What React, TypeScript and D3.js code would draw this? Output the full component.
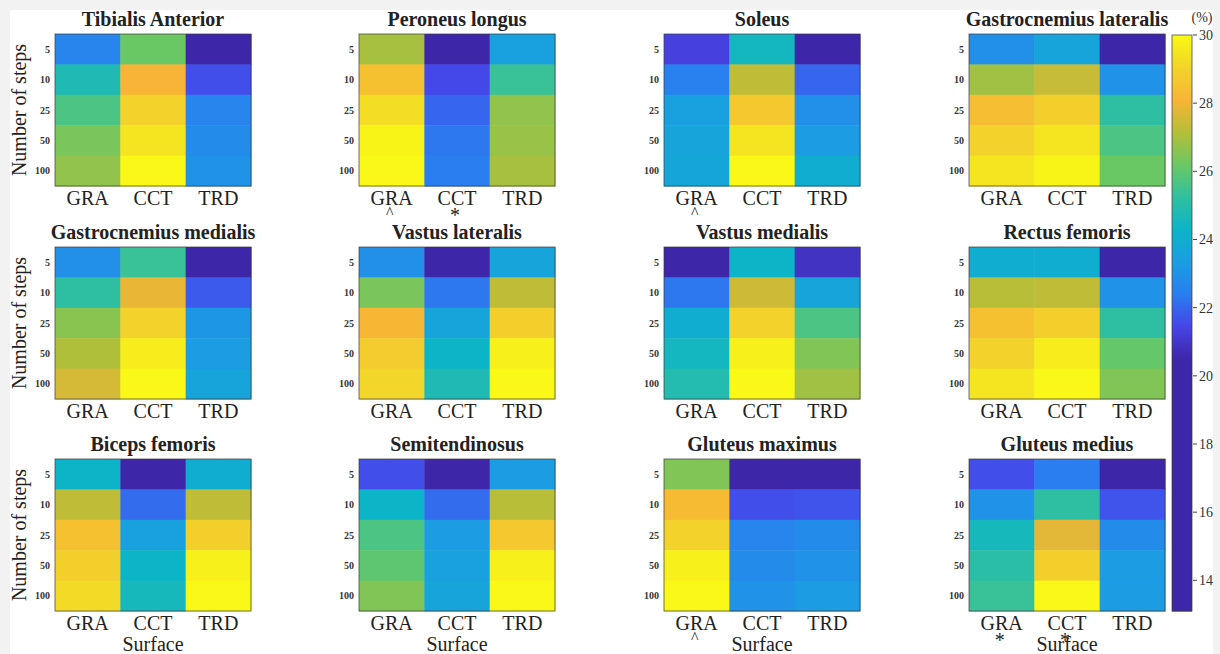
import React from 'react';
import * as d3 from 'd3';

// categories
const surfaces = ['GRA', 'CCT', 'TRD'];
const steps = ['5', '10', '25', '50', '100'];
const muscles = [
  'Tibialis Anterior', 'Peroneus longus', 'Soleus', 'Gastrocnemius lateralis',
  'Gastrocnemius medialis', 'Vastus lateralis', 'Vastus medialis', 'Rectus femoris',
  'Biceps femoris', 'Semitendinosus', 'Gluteus maximus', 'Gluteus medius',
];

// values (%) : one row per number of steps, columns GRA / CCT / TRD
const tibialisAnterior = [[22.6, 26.2, 19.0], [24.8, 28.1, 21.6], [25.7, 29.0, 22.6], [26.4, 29.5, 22.8], [26.7, 30.0, 23.0]];
const peroneusLongus = [[27.0, 19.0, 23.5], [28.5, 21.5, 25.4], [29.3, 22.0, 26.7], [29.9, 22.3, 26.8], [30.0, 22.4, 27.0]];
const soleus = [[21.3, 24.5, 19.0], [22.5, 27.3, 22.0], [23.5, 28.7, 22.9], [23.6, 29.5, 23.3], [23.7, 30.0, 24.0]];
const gastrocLateralis = [[22.9, 23.6, 19.0], [26.9, 27.4, 23.0], [28.4, 28.9, 25.2], [29.0, 29.5, 25.7], [29.5, 29.9, 26.2]];
const gastrocMedialis = [[22.9, 25.4, 19.0], [25.2, 27.9, 21.8], [26.6, 29.0, 23.1], [27.1, 29.7, 23.3], [27.6, 30.0, 23.6]];
const vastusLateralis = [[22.9, 19.0, 23.6], [26.4, 22.3, 27.3], [28.2, 23.6, 28.9], [28.8, 24.3, 29.8], [29.1, 24.8, 30.0]];
const vastusMedialis = [[19.0, 24.3, 20.9], [22.3, 27.5, 23.6], [24.0, 29.0, 25.7], [24.5, 29.8, 26.5], [24.9, 30.0, 26.9]];
const rectusFemoris = [[24.0, 24.0, 19.0], [27.2, 27.3, 23.0], [28.5, 28.9, 25.2], [29.0, 29.7, 26.1], [29.5, 30.0, 26.5]];
const bicepsFemoris = [[24.3, 19.0, 24.0], [27.3, 22.1, 27.3], [28.5, 23.5, 28.9], [28.9, 24.3, 29.8], [29.2, 24.6, 30.0]];
const semitendinosus = [[21.6, 19.0, 23.3], [24.3, 22.1, 27.2], [25.7, 23.3, 28.7], [26.0, 23.5, 29.8], [26.5, 23.6, 30.0]];
const gluteusMaximus = [[26.5, 19.0, 19.0], [28.3, 21.6, 21.7], [29.0, 22.6, 22.8], [29.8, 22.8, 23.0], [30.0, 23.0, 23.3]];
const gluteusMedius = [[21.6, 22.4, 19.0], [23.0, 25.2, 21.7], [24.6, 27.8, 22.8], [25.1, 28.9, 23.3], [25.4, 30.0, 23.3]];

const grids = [
  tibialisAnterior, peroneusLongus, soleus, gastrocLateralis,
  gastrocMedialis, vastusLateralis, vastusMedialis, rectusFemoris,
  bicepsFemoris, semitendinosus, gluteusMaximus, gluteusMedius,
];

// significance marks under the surface labels
const marks: { panel: number; surface: string; sym: string }[] = [
  { panel: 1, surface: 'GRA', sym: '^' },
  { panel: 1, surface: 'CCT', sym: '*' },
  { panel: 2, surface: 'GRA', sym: '^' },
  { panel: 10, surface: 'GRA', sym: '^' },
  { panel: 11, surface: 'GRA', sym: '*' },
  { panel: 11, surface: 'CCT', sym: '*' },
];

const cbTicks = [14, 16, 18, 20, 22, 24, 26, 28, 30];

// parula-like colours
const parula = ['#3e26a8', '#4745e8', '#2a7ef0', '#1a9ee2', '#0cb4c8', '#30c0a0', '#6ac864', '#b4bf38', '#f8b436', '#f2d42a', '#f9f816'];
const cLow = 20.5, cHigh = 30;

const W = 1220, H = 654;
const panelX = [55, 359, 664, 969];
const panelY = [34, 247, 459];
const PW = 196, PH = 152;
const cbX = 1172, cbW = 20, cbTop = 35, cbBottom = 611;
const serif = '"Liberation Serif", "Times New Roman", serif';

export default function App() {
  const color = d3.scaleLinear<string>()
    .domain(parula.map((_, i) => cLow + (cHigh - cLow) * i / (parula.length - 1)))
    .range(parula)
    .interpolate(d3.interpolateRgb)
    .clamp(true);

  const x = d3.scaleBand().domain(surfaces).range([0, PW]);
  const y = d3.scaleBand().domain(steps).range([0, PH]);
  const cbY = d3.scaleLinear().domain([13.1, 30]).range([cbBottom, cbTop]);
  const cbRows = d3.range(cbTop, cbBottom, 2);

  return (
    <svg width={W} height={H} style={{ position: 'absolute', left: 0, top: 0 }} fontFamily={serif}>
      <rect width={W} height={H} fill="#f2f2f2" />
      <rect x={10} y={10} width={1203} height={H - 10} fill="#fff" />

      {grids.map((grid, p) => {
        const px = panelX[p % 4], py = panelY[Math.floor(p / 4)];
        const lastRow = p >= 8;
        return (
          <g key={p} transform={`translate(${px},${py})`}>
            <text x={PW / 2} y={-8} textAnchor="middle" fontSize={20} fontWeight="bold" fill="#222">{muscles[p]}</text>
            {grid.map((row, r) => row.map((v, c) => (
              <rect key={`${r}-${c}`} x={x(surfaces[c])} y={y(steps[r])} width={x.bandwidth() + 0.5} height={y.bandwidth() + 0.5} fill={color(v)} />
            )))}
            <rect width={PW} height={PH} fill="none" stroke="#3a3a3a" strokeWidth={1} strokeOpacity={0.7} />
            {steps.map(s => (
              <text key={s} x={-5} y={(y(s) ?? 0) + y.bandwidth() / 2 + 3.5} textAnchor="end" fontSize={10} fontWeight="bold" fill="#333">{s}</text>
            ))}
            {surfaces.map(s => (
              <text key={s} x={(x(s) ?? 0) + x.bandwidth() / 2} y={PH + 19} textAnchor="middle" fontSize={20} fill="#222">{s}</text>
            ))}
            {p % 4 === 0 && (
              <text transform={`translate(${26 - px},${PH / 2}) rotate(-90)`} textAnchor="middle" fontSize={20} fill="#222">Number of steps</text>
            )}
            {lastRow && (
              <text x={PW / 2} y={PH + 40} textAnchor="middle" fontSize={20} fill="#222">Surface</text>
            )}
            {marks.filter(m => m.panel === p).map((m, i) => (
              <text key={i} x={(x(m.surface) ?? 0) + x.bandwidth() / 2 - 2} y={PH + (m.sym === '^' ? 32 : 36)} textAnchor="middle" fontSize={m.sym === '^' ? 16 : 20} fill="#222">{m.sym}</text>
            ))}
          </g>
        );
      })}

      {/* colorbar */}
      <g>
        {cbRows.map(r => (
          <rect key={r} x={cbX} y={r} width={cbW} height={2.5} fill={color(cbY.invert(r + 1))} />
        ))}
        <rect x={cbX} y={cbTop} width={cbW} height={cbBottom - cbTop} fill="none" stroke="#3a3a3a" strokeOpacity={0.7} />
        {cbTicks.map(t => (
          <g key={t}>
            <line x1={cbX + cbW + 1} x2={cbX + cbW + 5} y1={cbY(t)} y2={cbY(t)} stroke="#444" />
            <text x={cbX + cbW + 7} y={cbY(t) + 5} fontSize={14} fill="#333">{t}</text>
          </g>
        ))}
        <text x={1202} y={22} textAnchor="middle" fontSize={14} fill="#333">(%)</text>
      </g>
      <rect x={1213} y={0} width={7} height={H} fill="#f2f2f2" />
    </svg>
  );
}
